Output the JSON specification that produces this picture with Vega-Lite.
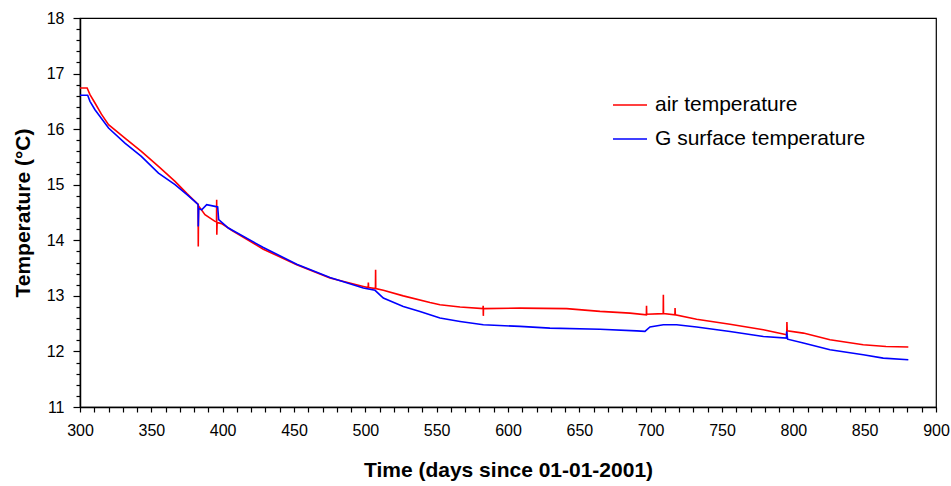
{
  "$schema": "https://vega.github.io/schema/vega-lite/v6.json",
  "width": 856,
  "height": 389,
  "autosize": {"type": "none"},
  "padding": {"left": 80, "top": 18, "right": 15, "bottom": 79},
  "background": "white",
  "config": {
    "view": {"stroke": "black", "strokeWidth": 1.2},
    "font": "Liberation Sans"
  },
  "data": {
    "values": [
      {"s": "air temperature", "t": 300, "v": 16.74},
      {"s": "air temperature", "t": 305, "v": 16.74},
      {"s": "air temperature", "t": 307, "v": 16.62},
      {"s": "air temperature", "t": 310.5, "v": 16.47},
      {"s": "air temperature", "t": 315, "v": 16.27},
      {"s": "air temperature", "t": 320, "v": 16.08},
      {"s": "air temperature", "t": 331.5, "v": 15.84},
      {"s": "air temperature", "t": 343, "v": 15.6},
      {"s": "air temperature", "t": 355, "v": 15.33},
      {"s": "air temperature", "t": 366.6, "v": 15.06},
      {"s": "air temperature", "t": 375, "v": 14.84},
      {"s": "air temperature", "t": 381.8, "v": 14.67},
      {"s": "air temperature", "t": 382.8, "v": 14.65},
      {"s": "air temperature", "t": 382.9, "v": 13.89},
      {"s": "air temperature", "t": 383.1, "v": 14.62},
      {"s": "air temperature", "t": 387.6, "v": 14.46},
      {"s": "air temperature", "t": 394.6, "v": 14.34},
      {"s": "air temperature", "t": 395.7, "v": 14.33},
      {"s": "air temperature", "t": 395.8, "v": 14.73},
      {"s": "air temperature", "t": 395.9, "v": 14.1},
      {"s": "air temperature", "t": 396.1, "v": 14.32},
      {"s": "air temperature", "t": 399.3, "v": 14.3},
      {"s": "air temperature", "t": 406.3, "v": 14.18},
      {"s": "air temperature", "t": 428.5, "v": 13.84},
      {"s": "air temperature", "t": 451.9, "v": 13.56},
      {"s": "air temperature", "t": 475.2, "v": 13.32},
      {"s": "air temperature", "t": 498.6, "v": 13.17},
      {"s": "air temperature", "t": 502, "v": 13.15},
      {"s": "air temperature", "t": 502.1, "v": 13.24},
      {"s": "air temperature", "t": 502.3, "v": 13.15},
      {"s": "air temperature", "t": 507.1, "v": 13.13},
      {"s": "air temperature", "t": 507.2, "v": 13.47},
      {"s": "air temperature", "t": 507.3, "v": 13.13},
      {"s": "air temperature", "t": 512.6, "v": 13.1},
      {"s": "air temperature", "t": 526.6, "v": 13.0},
      {"s": "air temperature", "t": 545.3, "v": 12.88},
      {"s": "air temperature", "t": 552.3, "v": 12.84},
      {"s": "air temperature", "t": 566.4, "v": 12.8},
      {"s": "air temperature", "t": 582.5, "v": 12.77},
      {"s": "air temperature", "t": 582.6, "v": 12.82},
      {"s": "air temperature", "t": 582.7, "v": 12.64},
      {"s": "air temperature", "t": 582.8, "v": 12.77},
      {"s": "air temperature", "t": 608.4, "v": 12.78},
      {"s": "air temperature", "t": 641.1, "v": 12.77},
      {"s": "air temperature", "t": 664.5, "v": 12.72},
      {"s": "air temperature", "t": 685.5, "v": 12.69},
      {"s": "air temperature", "t": 697, "v": 12.66},
      {"s": "air temperature", "t": 697.1, "v": 12.82},
      {"s": "air temperature", "t": 697.2, "v": 12.67},
      {"s": "air temperature", "t": 708.8, "v": 12.68},
      {"s": "air temperature", "t": 708.9, "v": 13.02},
      {"s": "air temperature", "t": 709.0, "v": 12.68},
      {"s": "air temperature", "t": 717.0, "v": 12.66},
      {"s": "air temperature", "t": 717.1, "v": 12.78},
      {"s": "air temperature", "t": 717.3, "v": 12.66},
      {"s": "air temperature", "t": 732.2, "v": 12.58},
      {"s": "air temperature", "t": 755.6, "v": 12.49},
      {"s": "air temperature", "t": 779, "v": 12.39},
      {"s": "air temperature", "t": 795.4, "v": 12.3},
      {"s": "air temperature", "t": 795.5, "v": 12.53},
      {"s": "air temperature", "t": 795.7, "v": 12.37},
      {"s": "air temperature", "t": 807, "v": 12.33},
      {"s": "air temperature", "t": 825.7, "v": 12.21},
      {"s": "air temperature", "t": 849, "v": 12.12},
      {"s": "air temperature", "t": 865, "v": 12.09},
      {"s": "air temperature", "t": 880.6, "v": 12.08},
      {"s": "G surface temperature", "t": 300, "v": 16.61},
      {"s": "G surface temperature", "t": 305.4, "v": 16.61},
      {"s": "G surface temperature", "t": 307, "v": 16.5},
      {"s": "G surface temperature", "t": 310.5, "v": 16.35},
      {"s": "G surface temperature", "t": 320, "v": 16.02},
      {"s": "G surface temperature", "t": 331.5, "v": 15.75},
      {"s": "G surface temperature", "t": 343, "v": 15.51},
      {"s": "G surface temperature", "t": 355, "v": 15.21},
      {"s": "G surface temperature", "t": 366.6, "v": 15.0},
      {"s": "G surface temperature", "t": 375, "v": 14.82},
      {"s": "G surface temperature", "t": 381.8, "v": 14.67},
      {"s": "G surface temperature", "t": 382.8, "v": 14.64},
      {"s": "G surface temperature", "t": 382.9, "v": 14.25},
      {"s": "G surface temperature", "t": 383.2, "v": 14.57},
      {"s": "G surface temperature", "t": 385.3, "v": 14.55},
      {"s": "G surface temperature", "t": 388.8, "v": 14.64},
      {"s": "G surface temperature", "t": 394.6, "v": 14.61},
      {"s": "G surface temperature", "t": 396.5, "v": 14.6},
      {"s": "G surface temperature", "t": 397.2, "v": 14.37},
      {"s": "G surface temperature", "t": 404, "v": 14.22},
      {"s": "G surface temperature", "t": 428.5, "v": 13.87},
      {"s": "G surface temperature", "t": 451.9, "v": 13.57},
      {"s": "G surface temperature", "t": 475.2, "v": 13.33},
      {"s": "G surface temperature", "t": 498.6, "v": 13.14},
      {"s": "G surface temperature", "t": 506.8, "v": 13.1},
      {"s": "G surface temperature", "t": 512.6, "v": 12.96},
      {"s": "G surface temperature", "t": 526.6, "v": 12.81},
      {"s": "G surface temperature", "t": 538.3, "v": 12.72},
      {"s": "G surface temperature", "t": 545.3, "v": 12.66},
      {"s": "G surface temperature", "t": 552.3, "v": 12.6},
      {"s": "G surface temperature", "t": 566.4, "v": 12.54},
      {"s": "G surface temperature", "t": 582.7, "v": 12.48},
      {"s": "G surface temperature", "t": 608.4, "v": 12.45},
      {"s": "G surface temperature", "t": 629.4, "v": 12.42},
      {"s": "G surface temperature", "t": 664.5, "v": 12.4},
      {"s": "G surface temperature", "t": 690.2, "v": 12.37},
      {"s": "G surface temperature", "t": 696, "v": 12.36},
      {"s": "G surface temperature", "t": 699.5, "v": 12.44},
      {"s": "G surface temperature", "t": 708.9, "v": 12.48},
      {"s": "G surface temperature", "t": 718.2, "v": 12.48},
      {"s": "G surface temperature", "t": 732.2, "v": 12.44},
      {"s": "G surface temperature", "t": 755.6, "v": 12.36},
      {"s": "G surface temperature", "t": 779, "v": 12.27},
      {"s": "G surface temperature", "t": 795.2, "v": 12.24},
      {"s": "G surface temperature", "t": 795.3, "v": 12.36},
      {"s": "G surface temperature", "t": 796, "v": 12.22},
      {"s": "G surface temperature", "t": 807, "v": 12.15},
      {"s": "G surface temperature", "t": 825.7, "v": 12.03},
      {"s": "G surface temperature", "t": 849, "v": 11.94},
      {"s": "G surface temperature", "t": 863, "v": 11.88},
      {"s": "G surface temperature", "t": 880.6, "v": 11.85}
    ]
  },
  "mark": {"type": "line", "strokeWidth": 1.6, "clip": true},
  "encoding": {
    "x": {
      "field": "t",
      "type": "quantitative",
      "scale": {"domain": [300, 900], "nice": false, "zero": false},
      "axis": {
        "title": "Time (days since 01-01-2001)",
        "titleFont": "Liberation Sans",
        "titleFontSize": 21,
        "titleFontWeight": "bold",
        "titleColor": "black",
        "titleX": 428,
        "titleY": 63,
        "titleAlign": "center",
        "titleBaseline": "middle",
        "values": [300,310,320,330,340,350,360,370,380,390,400,410,420,430,440,450,460,470,480,490,500,510,520,530,540,550,560,570,580,590,600,610,620,630,640,650,660,670,680,690,700,710,720,730,740,750,760,770,780,790,800,810,820,830,840,850,860,870,880,890,900],
        "labelExpr": "datum.value % 50 === 0 ? datum.label : ''",
        "labelOverlap": false,
        "labelFlush": false,
        "labelBound": false,
        "labelFont": "Liberation Sans",
        "labelFontSize": 16,
        "labelColor": "black",
        "labelPadding": 10,
        "tickSize": 5,
        "tickColor": "black",
        "tickWidth": 1.2,
        "domainColor": "black",
        "domainWidth": 1.5,
        "grid": false
      }
    },
    "y": {
      "field": "v",
      "type": "quantitative",
      "scale": {"domain": [11, 18], "nice": false, "zero": false},
      "axis": {
        "title": "Temperature (°C)",
        "titleFont": "Liberation Sans",
        "titleFontSize": 21,
        "titleFontWeight": "bold",
        "titleColor": "black",
        "titleX": -57,
        "titleY": 194.5,
        "titleAngle": -90,
        "titleAlign": "center",
        "titleBaseline": "middle",
        "values": [11,11.2,11.4,11.6,11.8,12,12.2,12.4,12.6,12.8,13,13.2,13.4,13.6,13.8,14,14.2,14.4,14.6,14.8,15,15.2,15.4,15.6,15.8,16,16.2,16.4,16.6,16.8,17,17.2,17.4,17.6,17.8,18],
        "labelExpr": "abs(datum.value - round(datum.value)) < 0.01 ? format(datum.value, 'd') : ''",
        "labelOverlap": false,
        "labelFlush": false,
        "labelBound": false,
        "labelFont": "Liberation Sans",
        "labelFontSize": 16,
        "labelColor": "black",
        "labelPadding": 9,
        "tickSize": {"condition": {"test": "abs(datum.value - round(datum.value)) < 0.01", "value": 7}, "value": 4},
        "tickColor": "black",
        "tickWidth": 1.2,
        "domainColor": "black",
        "domainWidth": 1.5,
        "grid": false
      }
    },
    "color": {
      "field": "s",
      "type": "nominal",
      "scale": {"domain": ["air temperature", "G surface temperature"], "range": ["#ff0000", "#0000ff"]},
      "legend": {
        "title": null,
        "orient": "none",
        "legendX": 532,
        "legendY": 69,
        "padding": 0,
        "symbolType": "stroke",
        "symbolSize": 1156,
        "symbolStrokeWidth": 1.5,
        "rowPadding": 6,
        "labelOffset": 7,
        "labelFont": "Liberation Sans",
        "labelFontSize": 21,
        "labelColor": "black",
        "labelLimit": 400
      }
    }
  }
}
